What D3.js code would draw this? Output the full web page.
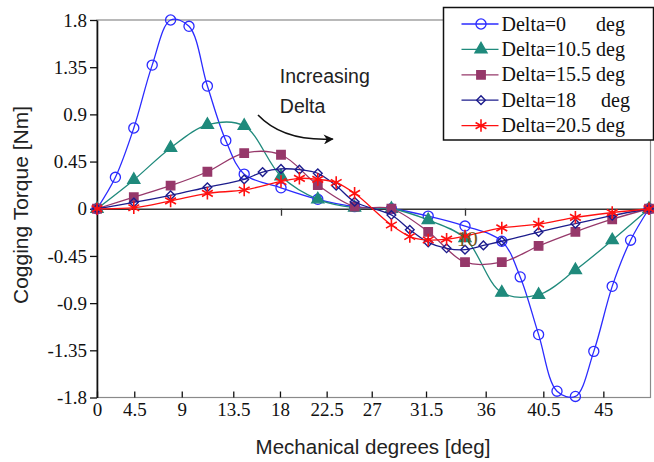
<!DOCTYPE html>
<html>
<head>
<meta charset="utf-8">
<script src="https://cdn.jsdelivr.net/npm/d3@7"></script>
<style>
  body { margin: 0; background: #fff; }
  svg { display: block; }
  text { white-space: pre; }
</style>
</head>
<body>
<div id="chart"></div>
<script>
// x is the rotor position (0..48 deg), y is the cogging torque in Nm
const blueX   = [0, 1.6, 3.2, 4.8, 6.4, 8, 9.6, 11.2, 12.8, 16, 19.2, 22.4, 25.6, 28.8, 32, 35.2, 36.8, 38.4, 40, 41.6, 43.2, 44.8, 46.4, 48];
const blueY   = [0, 0.30, 0.77, 1.37, 1.80, 1.74, 1.17, 0.65, 0.33, 0.20, 0.09, 0.02, 0, -0.07, -0.165, -0.31, -0.65, -1.20, -1.74, -1.79, -1.36, -0.74, -0.30, 0];

const tealX   = [0, 3.2, 6.4, 9.6, 12.8, 16, 19.2, 22.4, 25.6, 28.8, 32, 35.2, 38.4, 41.6, 44.8, 48];
const tealY   = [0, 0.275, 0.58, 0.80, 0.79, 0.31, 0.09, 0.01, 0, -0.107, -0.28, -0.80, -0.82, -0.585, -0.30, 0];

const plumX   = [0, 3.2, 6.4, 9.6, 12.8, 16, 19.2, 22.4, 25.6, 28.8, 32, 35.2, 38.4, 41.6, 44.8, 48];
const plumY   = [0, 0.11, 0.22, 0.353, 0.53, 0.515, 0.226, 0.02, 0, -0.22, -0.51, -0.51, -0.355, -0.22, -0.10, 0];

const navyX   = [0, 3.2, 6.4, 9.6, 12.8, 14.4, 16, 17.6, 19.2, 20.8, 22.4, 25.6, 27.2, 28.8, 30.4, 32, 33.6, 35.2, 38.4, 41.6, 44.8, 48];
const navyY   = [0, 0.06, 0.128, 0.205, 0.28, 0.35, 0.38, 0.373, 0.338, 0.22, 0.067, -0.06, -0.20, -0.32, -0.377, -0.39, -0.35, -0.31, -0.222, -0.142, -0.065, 0];

const redX    = [0, 3.2, 6.4, 9.6, 12.8, 16, 17.6, 19.2, 20.8, 22.4, 25.6, 27.2, 28.8, 30.4, 32, 35.2, 38.4, 41.6, 44.8, 48];
const redY    = [0, 0.01, 0.075, 0.147, 0.179, 0.26, 0.29, 0.28, 0.25, 0.147, -0.155, -0.265, -0.298, -0.29, -0.26, -0.183, -0.146, -0.082, -0.037, 0];

const seriesNames = ["Delta=0      deg", "Delta=10.5 deg", "Delta=15.5 deg", "Delta=18     deg", "Delta=20.5 deg"];

// the printed tick labels do not sit on their own values, so their positions are kept apart
const xTickPos    = [0, 3.24, 7.37, 11.85, 15.91, 19.97, 23.89, 28.61, 33.8, 38.81, 44.03];
const xTickLabels = ["0", "4.5", "9", "13.5", "18", "22.5", "27", "31.5", "36", "40.5", "45"];
const yTicks      = [1.8, 1.35, 0.9, 0.45, 0, -0.45, -0.9, -1.35, -1.8];
const yTickLabels = ["1.8", "1.35", "0.9", "0.45", "0", "-0.45", "-0.9", "-1.35", "-1.8"];

const W = 654, H = 462;
const PLOT = { LEFT: 97, RIGHT: 649, TOP: 20, BOTTOM: 397.5 };

const svg = d3.select("#chart").append("svg")
  .attr("width", W).attr("height", H);
svg.append("rect").attr("width", W).attr("height", H).attr("fill", "#fff");

const x = d3.scaleLinear().domain([0, 48]).range([PLOT.LEFT, PLOT.RIGHT]);
const y = d3.scaleLinear().domain([-1.8, 1.8]).range([PLOT.BOTTOM, PLOT.TOP]);

// frame
svg.append("rect")
  .attr("x", PLOT.LEFT).attr("y", PLOT.TOP)
  .attr("width", 650.5 - PLOT.LEFT).attr("height", PLOT.BOTTOM - PLOT.TOP)
  .attr("fill", "none").attr("stroke", "#8a8a8a").attr("stroke-width", 1.2);

// bottom axis (ticks point inward)
const xAxis = d3.axisBottom(x)
  .tickValues(xTickPos)
  .tickFormat((d, i) => xTickLabels[i])
  .tickSizeInner(-6).tickSizeOuter(0).tickPadding(5);
const gx = svg.append("g").attr("transform", `translate(0,${PLOT.BOTTOM})`).call(xAxis);
gx.select(".domain").remove();
gx.selectAll("line").attr("stroke", "#111").attr("stroke-width", 1.3);
gx.selectAll("text")
  .attr("font-family", "'Liberation Serif', 'Times New Roman', serif")
  .attr("font-size", 19).attr("fill", "#111");

// zero line with its own small ticks
const zeroAxis = d3.axisBottom(x).tickValues([16, 32]).tickFormat("").tickSizeInner(7).tickSizeOuter(0);
const gz = svg.append("g").attr("transform", `translate(0,${y(0)})`).call(zeroAxis);
gz.select(".domain").attr("stroke", "#333").attr("stroke-width", 1.5);
gz.selectAll("line").attr("stroke", "#333").attr("stroke-width", 1.3);

// left axis
const yAxis = d3.axisLeft(y)
  .tickValues(yTicks)
  .tickFormat((d, i) => yTickLabels[i])
  .tickSizeInner(7).tickSizeOuter(0).tickPadding(3);
const gy = svg.append("g").attr("transform", `translate(${PLOT.LEFT},0)`).call(yAxis);
gy.select(".domain").attr("stroke", "#111").attr("stroke-width", 1.6);
gy.selectAll("line").attr("stroke", "#111").attr("stroke-width", 1.3);
gy.selectAll("text")
  .attr("font-family", "'Liberation Serif', 'Times New Roman', serif")
  .attr("font-size", 19).attr("fill", "#111");

// axis titles
svg.append("text")
  .attr("x", 373).attr("y", 454)
  .attr("text-anchor", "middle")
  .attr("font-family", "'Liberation Sans', Arial, sans-serif")
  .attr("font-size", 20.5).attr("fill", "#222")
  .text("Mechanical degrees [deg]");

svg.append("text")
  .attr("transform", "translate(28,205) rotate(-90)")
  .attr("text-anchor", "middle")
  .attr("font-family", "'Liberation Sans', Arial, sans-serif")
  .attr("font-size", 21).attr("fill", "#222")
  .text("Cogging Torque [Nm]");

// series
const series = [
  { xs: blueX, ys: blueY, color: "#2b2bff", sym: d3.symbolCircle,   size: 80, fill: "none", sw: 1.3 },
  { xs: tealX, ys: tealY, color: "#1f8a7c", sym: d3.symbolTriangle, size: 64, fill: "#1f8a7c", sw: 1.3 },
  { xs: plumX, ys: plumY, color: "#96386a", sym: d3.symbolSquare,   size: 72, fill: "#96386a", sw: 1.3 },
  { xs: navyX, ys: navyY, color: "#1c1c8c", sym: d3.symbolDiamond2, size: 48, fill: "none", sw: 1.4 },
  { xs: redX,  ys: redY,  color: "#ff1010", sym: d3.symbolAsterisk, size: 110, fill: "none", sw: 1.6 }
];

const line = d3.line()
  .x(d => x(d[0])).y(d => y(d[1]))
  .curve(d3.curveCatmullRom.alpha(0.5));

series.forEach(s => {
  const pts = s.xs.map((v, i) => [v, s.ys[i]]);
  svg.append("path")
    .datum(pts)
    .attr("d", line)
    .attr("fill", "none")
    .attr("stroke", s.color)
    .attr("stroke-width", 1.3);
  svg.append("g").selectAll("path")
    .data(pts)
    .join("path")
    .attr("transform", d => `translate(${x(d[0])},${y(d[1])})`)
    .attr("d", d3.symbol(s.sym, s.size))
    .attr("fill", s.fill)
    .attr("stroke", s.color)
    .attr("stroke-width", s.sw);
});

// annotation
svg.append("text")
  .attr("x", x(15.9)).attr("y", y(1.2))
  .attr("font-family", "'Liberation Sans', Arial, sans-serif")
  .attr("font-size", 19.5).attr("fill", "#222")
  .text("Increasing");
svg.append("text")
  .attr("x", x(15.9)).attr("y", y(0.915))
  .attr("font-family", "'Liberation Sans', Arial, sans-serif")
  .attr("font-size", 19.5).attr("fill", "#222")
  .text("Delta");

svg.append("defs").append("marker")
  .attr("id", "arrow")
  .attr("viewBox", "0 0 10 10")
  .attr("refX", 9).attr("refY", 5)
  .attr("markerWidth", 10).attr("markerHeight", 10)
  .attr("markerUnits", "userSpaceOnUse")
  .attr("orient", "auto")
  .append("path")
  .attr("d", "M0,0 L10,5 L0,10 L3,5 Z")
  .attr("fill", "#111");

svg.append("path")
  .attr("d", `M${x(14.0)},${y(0.894)} Q${x(16.2)},${y(0.64)} ${x(20.5)},${y(0.665)}`)
  .attr("fill", "none")
  .attr("stroke", "#111")
  .attr("stroke-width", 1.6)
  .attr("marker-end", "url(#arrow)");

// stray label printed on the original figure
svg.append("text")
  .attr("x", x(31.28)).attr("y", y(-0.355))
  .attr("font-family", "'Liberation Serif', 'Times New Roman', serif")
  .attr("font-size", 21).attr("fill", "#6e5420")
  .text("10");

// legend
const LEG = { X: 443.5, Y: 7.5, W: 210, H: 132.5, ROW: 25.4, FIRST: 24 };
const legend = svg.append("g");
legend.append("rect")
  .attr("x", LEG.X).attr("y", LEG.Y)
  .attr("width", LEG.W).attr("height", LEG.H)
  .attr("fill", "#fff").attr("stroke", "#111").attr("stroke-width", 1.5);

series.forEach((s, i) => {
  const ry = LEG.FIRST + i * LEG.ROW;
  legend.append("line")
    .attr("x1", 461.5).attr("x2", 498.5)
    .attr("y1", ry).attr("y2", ry)
    .attr("stroke", s.color).attr("stroke-width", 1.3);
  legend.append("path")
    .attr("transform", `translate(481,${ry})`)
    .attr("d", d3.symbol(s.sym, s.size))
    .attr("fill", s.fill).attr("stroke", s.color).attr("stroke-width", s.sw);
  legend.append("text")
    .attr("x", 501.5).attr("y", ry)
    .attr("dy", "0.33em")
    .attr("font-family", "'Liberation Serif', 'Times New Roman', serif")
    .attr("font-size", 20).attr("fill", "#111")
    .text(seriesNames[i]);
});
</script>
</body>
</html>
